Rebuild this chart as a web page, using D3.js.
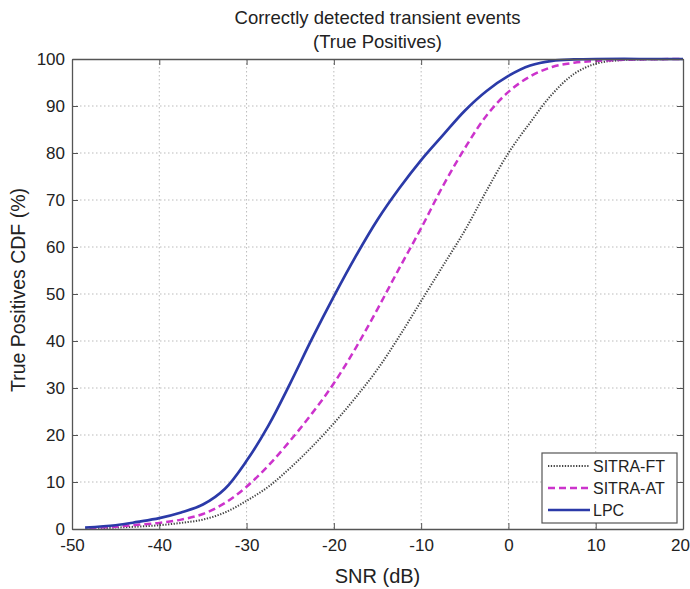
<!DOCTYPE html>
<html>
<head>
<meta charset="utf-8">
<script src="https://cdn.jsdelivr.net/npm/d3@7"></script>
<style>
  html, body { margin: 0; padding: 0; background: #fff; }
  svg { display: block; font-family: "Liberation Sans", Arial, Helvetica, sans-serif; }
</style>
</head>
<body>
<svg id="chart" width="690" height="589"></svg>
<script>
// SNR grid (dB) and cumulative true-positive percentages per detector
const snrFT = [-47, -45, -42.5, -40, -37.5, -35, -32.5, -30, -27.5, -25, -22.5, -20, -17.5, -15, -12.5, -10, -7.5, -5, -2.5, 0, 2.5, 5, 7.5, 10, 12.5, 15, 20];
const sitraFT = [0.1, 0.3, 0.5, 0.8, 1.3, 2, 3.5, 6, 9, 13, 17.5, 22.5, 28, 34, 41, 48.5, 56, 63.5, 72, 80, 86.5, 92.5, 96.8, 99, 99.7, 99.9, 100];

const snrAT = [-48, -45, -42.5, -40, -37.5, -35, -32.5, -30, -27.5, -25, -22.5, -20, -17.5, -15, -12.5, -10, -7.5, -5, -2.5, 0, 2.5, 5, 7.5, 10, 15, 20];
const sitraAT = [0.2, 0.5, 0.9, 1.3, 2, 3.2, 5.5, 9, 13.5, 18.8, 24.6, 31, 38.5, 46.8, 55.5, 64, 73, 81, 88, 93, 96.3, 98.3, 99.2, 99.6, 99.9, 100];

const snrLPC = [-48.5, -45, -42.5, -40, -37.5, -35, -32.5, -30, -27.5, -25, -22.5, -20, -17.5, -15, -12.5, -10, -7.5, -5, -2.5, 0, 2.5, 5, 7.5, 10, 15, 20];
const lpc = [0.3, 0.8, 1.5, 2.3, 3.5, 5.2, 8.5, 14.5, 22, 31, 40.5, 49.5, 58, 65.8, 72.5, 78.5, 83.8, 89, 93.2, 96.4, 98.6, 99.6, 99.9, 100, 100, 100];

const xTicks = [-50, -40, -30, -20, -10, 0, 10, 20];
const yTicks = [0, 10, 20, 30, 40, 50, 60, 70, 80, 90, 100];

const series = [
  { name: "SITRA-FT", x: snrFT, y: sitraFT, color: "#444444", width: 2, dash: "1.3,1.5" },
  { name: "SITRA-AT", x: snrAT, y: sitraAT, color: "#cc33cc", width: 2.5, dash: "7,4" },
  { name: "LPC",      x: snrLPC, y: lpc,    color: "#2b3aa8", width: 2.7, dash: null }
];

const svg = d3.select("#chart");
const L = 72, R = 683, T = 59, B = 529;

const x = d3.scaleLinear().domain([-50, 20]).range([L, R]);
const y = d3.scaleLinear().domain([0, 100]).range([B, T]);

const axisColor = "#555";
const gridColor = "#bbb";
const textColor = "#222";

// dotted grid
const grid = svg.append("g");
grid.selectAll("line.gx").data(xTicks.slice(1, -1)).join("line")
  .attr("x1", d => x(d)).attr("x2", d => x(d)).attr("y1", T).attr("y2", B)
  .attr("stroke", gridColor).attr("stroke-width", 1).attr("stroke-dasharray", "1.5,2.5");
grid.selectAll("line.gy").data(yTicks.slice(1, -1)).join("line")
  .attr("x1", L).attr("x2", R).attr("y1", d => y(d)).attr("y2", d => y(d))
  .attr("stroke", gridColor).attr("stroke-width", 1).attr("stroke-dasharray", "1.5,2.5");

// curves
const line = d3.line().x(d => x(d[0])).y(d => y(d[1])).curve(d3.curveCatmullRom.alpha(0.5));
series.forEach(s => {
  svg.append("path")
    .datum(s.x.map((v, i) => [v, s.y[i]]))
    .attr("fill", "none")
    .attr("stroke", s.color)
    .attr("stroke-width", s.width)
    .attr("stroke-dasharray", s.dash)
    .attr("d", line);
});

// axes with inward ticks on all four sides
const tickLen = 6;
const fmt = d => String(d);
const axBottom = svg.append("g").attr("transform", `translate(0,${B})`)
  .call(d3.axisBottom(x).tickValues(xTicks).tickFormat(fmt).tickSizeInner(-tickLen).tickSizeOuter(0).tickPadding(10));
const axTop = svg.append("g").attr("transform", `translate(0,${T})`)
  .call(d3.axisTop(x).tickValues(xTicks).tickSizeInner(-tickLen).tickSizeOuter(0).tickFormat(""));
const axLeft = svg.append("g").attr("transform", `translate(${L},0)`)
  .call(d3.axisLeft(y).tickValues(yTicks).tickFormat(fmt).tickSizeInner(-tickLen).tickSizeOuter(0).tickPadding(7));
const axRight = svg.append("g").attr("transform", `translate(${R},0)`)
  .call(d3.axisRight(y).tickValues(yTicks).tickSizeInner(-tickLen).tickSizeOuter(0).tickFormat(""));

[axBottom, axTop, axLeft, axRight].forEach(g => {
  g.select(".domain").attr("stroke", axisColor).attr("stroke-width", 1.3);
  g.selectAll(".tick line").attr("stroke", axisColor).attr("stroke-width", 1);
  g.selectAll(".tick text").attr("fill", textColor).style("font-size", "17px")
    .style("font-family", "'Liberation Sans', Arial, sans-serif");
});
// keep the last x label inside the canvas
axBottom.selectAll(".tick text").filter(d => d === 20).attr("dx", "-3");

// titles
svg.append("text").attr("x", (L + R) / 2).attr("y", 24).attr("text-anchor", "middle")
  .style("font-size", "18.5px").attr("fill", textColor).text("Correctly detected transient events");
svg.append("text").attr("x", (L + R) / 2).attr("y", 48).attr("text-anchor", "middle")
  .style("font-size", "18.5px").attr("fill", textColor).text("(True Positives)");

svg.append("text").attr("x", (L + R) / 2).attr("y", 583).attr("text-anchor", "middle")
  .style("font-size", "20px").attr("fill", textColor).text("SNR (dB)");
svg.append("text")
  .attr("transform", `translate(25,290) rotate(-90)`)
  .attr("text-anchor", "middle")
  .style("font-size", "19.5px").attr("fill", textColor).text("True Positives CDF (%)");

// legend
const lg = svg.append("g");
const lx = 542, ly = 453, lw = 135, lh = 70;
lg.append("rect").attr("x", lx).attr("y", ly).attr("width", lw).attr("height", lh)
  .attr("fill", "#fff").attr("stroke", axisColor).attr("stroke-width", 1.2);
series.forEach((s, i) => {
  const yy = ly + 13 + i * 22;
  lg.append("line").attr("x1", lx + 6).attr("x2", lx + 48).attr("y1", yy).attr("y2", yy)
    .attr("stroke", s.color).attr("stroke-width", s.width).attr("stroke-dasharray", s.dash);
  lg.append("text").attr("x", lx + 51).attr("y", yy + 6)
    .style("font-size", "16px").attr("fill", textColor).text(s.name);
});
</script>
</body>
</html>
